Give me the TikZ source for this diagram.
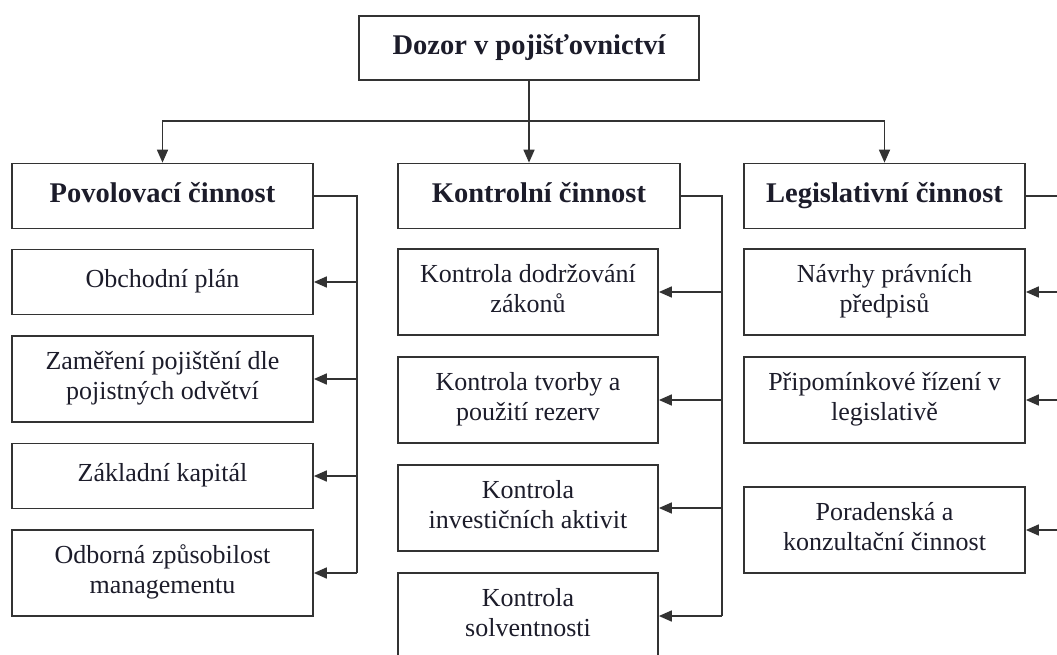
\documentclass[tikz,border=0pt]{standalone}
\usepackage{fontspec}
\setmainfont{Liberation Serif}
\usetikzlibrary{arrows.meta}
\definecolor{ink}{HTML}{1C1C2A}
\definecolor{rule}{HTML}{333333}

\begin{document}
\begin{tikzpicture}[x=1pt, y=-1pt, >={Triangle[length=13pt,width=11pt]},
	box/.style={draw=rule, line width=1.7pt, align=center, text=ink, inner sep=0pt, text depth=7pt, minimum height=86pt, font=\fontsize{26}{30}\selectfont},
	head/.style={box, minimum height=65pt, font=\fontsize{28.5}{32}\selectfont\bfseries},
	leftbox/.style={box, minimum width=301pt},
	midbox/.style={box, minimum width=260pt},
	rightbox/.style={box, minimum width=281pt},
	link/.style={draw=rule, line width=1.7pt}]
	\path[use as bounding box, clip] (0,0) rectangle (1057,655);
	\node[head, minimum width=340pt, minimum height=64pt] (dozor) at (529,48) {Dozor v pojišťovnictví};
	\node[head, minimum width=301pt] (povol) at (162.5,196) {Povolovací činnost};
	\node[head, minimum width=282pt] (kontrol) at (539,196) {Kontrolní činnost};
	\node[head, minimum width=281pt] (legis) at (884.5,196) {Legislativní činnost};
	\node[leftbox, minimum height=65pt] (obch) at (162.5,282) {Obchodní plán};
	\node[leftbox] (zamer) at (162.5,379) {Zaměření pojištění dle\\pojistných odvětví};
	\node[leftbox, minimum height=65pt] (zaklad) at (162.5,476) {Základní kapitál};
	\node[leftbox] (odbor) at (162.5,573) {Odborná způsobilost\\managementu};
	\node[midbox] (dodrz) at (528,292) {Kontrola dodržování\\zákonů};
	\node[midbox] (tvorba) at (528,400) {Kontrola tvorby a\\použití rezerv};
	\node[midbox] (invest) at (528,508) {Kontrola\\investičních aktivit};
	\node[midbox] (solv) at (528,616) {Kontrola\\solventnosti};
	\node[rightbox] (navrhy) at (884.5,292) {Návrhy právních\\předpisů};
	\node[rightbox] (pripom) at (884.5,400) {Připomínkové řízení v\\legislativě};
	\node[rightbox] (porad) at (884.5,530) {Poradenská a\\konzultační činnost};
	\coordinate (split) at (529,121);
	\coordinate (pbus) at (357,196);
	\coordinate (kbus) at (722,196);
	\coordinate (lbus) at (1075,196);
	\draw[link, ->] (dozor.south) -- (dozor.south |- kontrol.north);
	\draw[link, ->] (split) -| (povol.north);
	\draw[link, ->] (split) -| (legis.north);
	\draw[link] (povol.east) -- (pbus) -- (pbus |- odbor.east);
	\draw[link] (kontrol.east) -- (kbus) -- (kbus |- solv.east);
	\draw[link] (legis.east) -- (lbus) -- (lbus |- porad.east);
	\foreach \n in {obch,zamer,zaklad,odbor}
		\draw[link, ->] (pbus |- \n.east) -- (\n.east);
	\foreach \n in {dodrz,tvorba,invest,solv}
		\draw[link, ->] (kbus |- \n.east) -- (\n.east);
	\foreach \n in {navrhy,pripom,porad}
		\draw[link, ->] (lbus |- \n.east) -- (\n.east);
\end{tikzpicture}
\end{document}
